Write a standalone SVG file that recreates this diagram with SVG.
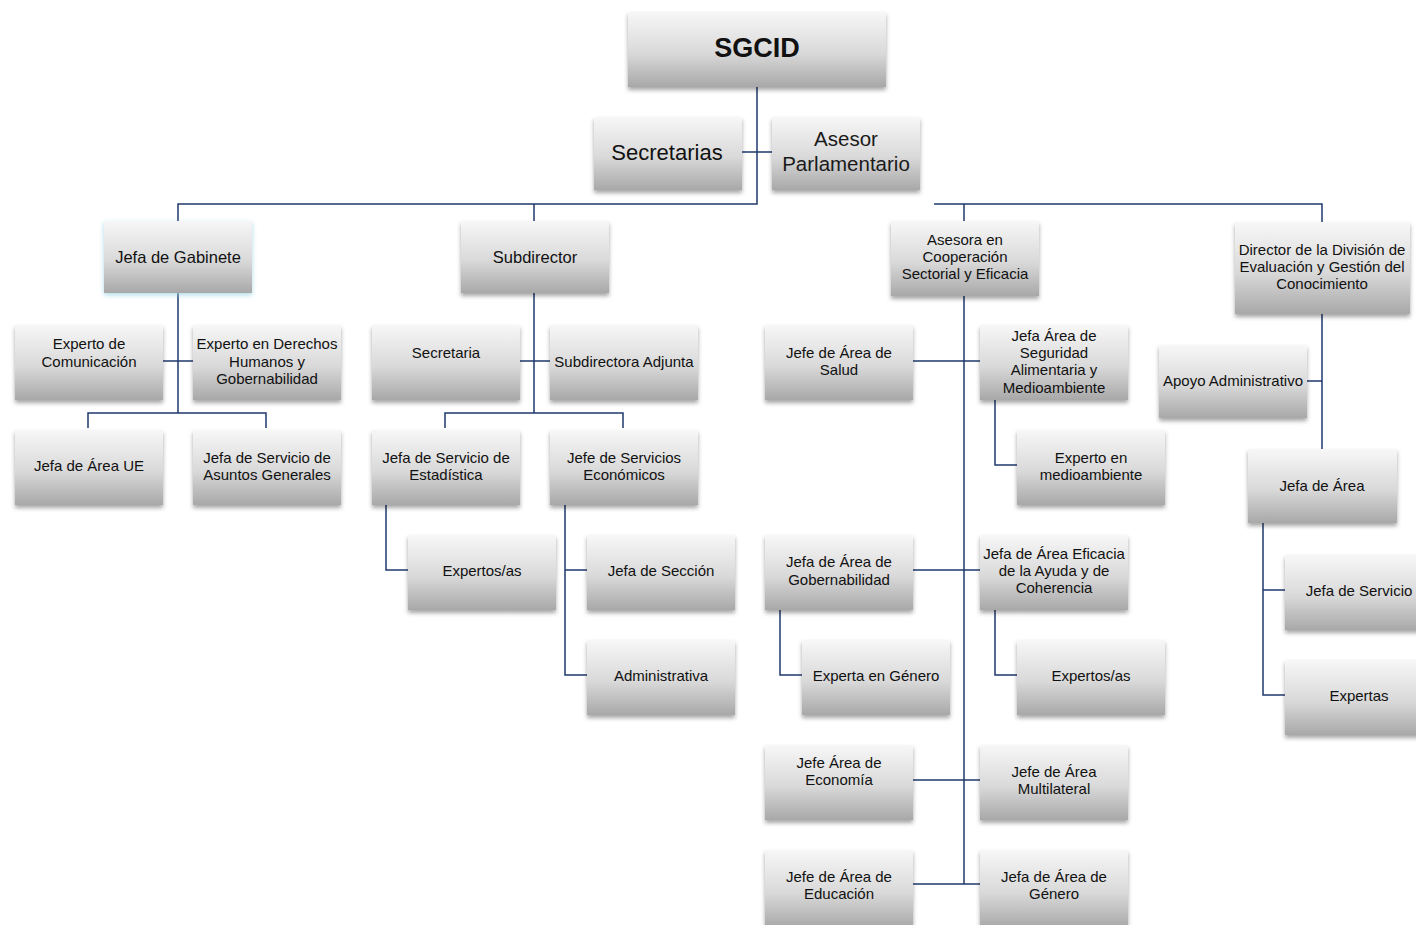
<svg xmlns="http://www.w3.org/2000/svg" width="1416" height="925" viewBox="0 0 1416 925">
<defs>
<linearGradient id="g" x1="0" y1="0" x2="0" y2="1">
<stop offset="0" stop-color="#f7f7f7"/>
<stop offset="0.55" stop-color="#d9d9d9"/>
<stop offset="1" stop-color="#a8a8a8"/>
</linearGradient>
<filter id="sh" x="-10%" y="-10%" width="120%" height="130%">
<feDropShadow dx="0" dy="3" stdDeviation="2" flood-color="#000" flood-opacity="0.35"/>
</filter>
<filter id="glow" x="-10%" y="-15%" width="120%" height="135%">
<feDropShadow dx="0" dy="2" stdDeviation="2.5" flood-color="#8ccbe0" flood-opacity="0.7"/>
</filter>
</defs>
<style>
.b{fill:url(#g);filter:url(#sh)}
.bg{fill:url(#g);filter:url(#glow)}
text{font-family:"Liberation Sans",Arial,sans-serif;fill:#111;text-anchor:middle;font-size:15px}
.t1{font-size:27px;font-weight:bold}
.t2{font-size:22px}
.t3{font-size:20.5px;fill:#1a1a1a}
.t4{font-size:16.5px}
.c{fill:none;stroke:#1f3a6e;stroke-width:1.5}
</style>
<g id="connectors" class="c">
<path d="M757 87V204H178V221M534 204V221"/>
<path d="M742 152H772"/>
<path d="M934 204H1322V222M964 204V221"/>
<path d="M178 293V413M163 361H193M88 428V413H266V428"/>
<path d="M534 293V413M520 361H550M445 428V413H623V428"/>
<path d="M386 505V570H408M565 505V675H587M565 570H587"/>
<path d="M964 296V884M913 361H980M913 570H980M913 780H980M913 884H980"/>
<path d="M995 400V465H1017M780 610V675H802M995 610V675H1017"/>
<path d="M1322 314V449M1307 381H1322M1263 523V695H1285M1263 590H1285"/>
</g>
<g id="n-sgcid"><rect class="b" x="628" y="12" width="258" height="75"/><text class="t1" x="757" y="57">SGCID</text></g>
<g id="n-secretarias"><rect class="b" x="594" y="117" width="148" height="73"/><text class="t2" x="667" y="160">Secretarias</text></g>
<g id="n-asesor"><rect class="b" x="772" y="117" width="148" height="73"/><text class="t3" x="846" y="146">Asesor</text><text class="t3" x="846" y="171">Parlamentario</text></g>
<g id="n-gabinete"><rect class="bg" x="104" y="221" width="148" height="72"/><text class="t4" x="178" y="263">Jefa de Gabinete</text></g>
<g id="n-exp-com"><rect class="b" x="15" y="325" width="148" height="75"/><text x="89" y="349">Experto de</text><text x="89" y="367">Comunicación</text></g>
<g id="n-exp-ddhh"><rect class="b" x="193" y="325" width="148" height="75"/><text x="267" y="349">Experto en Derechos</text><text x="267" y="367">Humanos y</text><text x="267" y="384">Gobernabilidad</text></g>
<g id="n-ue"><rect class="b" x="15" y="430" width="148" height="75"/><text x="89" y="471">Jefa de Área UE</text></g>
<g id="n-asuntos"><rect class="b" x="193" y="430" width="148" height="75"/><text x="267" y="463">Jefa de Servicio de</text><text x="267" y="480">Asuntos Generales</text></g>
<g id="n-subdirector"><rect class="b" x="461" y="221" width="148" height="72"/><text class="t4" x="535" y="263">Subdirector</text></g>
<g id="n-secretaria"><rect class="b" x="372" y="325" width="148" height="75"/><text x="446" y="358">Secretaria</text></g>
<g id="n-subadj"><rect class="b" x="550" y="325" width="148" height="75"/><text x="624" y="367">Subdirectora Adjunta</text></g>
<g id="n-estad"><rect class="b" x="372" y="430" width="148" height="75"/><text x="446" y="463">Jefa de Servicio de</text><text x="446" y="480">Estadística</text></g>
<g id="n-econ"><rect class="b" x="550" y="430" width="148" height="75"/><text x="624" y="463">Jefe de Servicios</text><text x="624" y="480">Económicos</text></g>
<g id="n-expertos1"><rect class="b" x="408" y="535" width="148" height="75"/><text x="482" y="576">Expertos/as</text></g>
<g id="n-seccion"><rect class="b" x="587" y="535" width="148" height="75"/><text x="661" y="576">Jefa de Sección</text></g>
<g id="n-admin"><rect class="b" x="587" y="640" width="148" height="75"/><text x="661" y="681">Administrativa</text></g>
<g id="n-asesora"><rect class="b" x="891" y="221" width="148" height="75"/><text x="965" y="245">Asesora en</text><text x="965" y="262">Cooperación</text><text x="965" y="279">Sectorial y Eficacia</text></g>
<g id="n-salud"><rect class="b" x="765" y="325" width="148" height="75"/><text x="839" y="358">Jefe de Área de</text><text x="839" y="375">Salud</text></g>
<g id="n-seguridad"><rect class="b" x="980" y="325" width="148" height="75"/><text x="1054" y="341">Jefa Área de</text><text x="1054" y="358">Seguridad</text><text x="1054" y="375">Alimentaria y</text><text x="1054" y="393">Medioambiente</text></g>
<g id="n-medioamb"><rect class="b" x="1017" y="430" width="148" height="75"/><text x="1091" y="463">Experto en</text><text x="1091" y="480">medioambiente</text></g>
<g id="n-gobern"><rect class="b" x="765" y="535" width="148" height="75"/><text x="839" y="567">Jefa de Área de</text><text x="839" y="585">Gobernabilidad</text></g>
<g id="n-eficacia"><rect class="b" x="980" y="535" width="148" height="75"/><text x="1054" y="559">Jefa de Área Eficacia</text><text x="1054" y="576">de la Ayuda y de</text><text x="1054" y="593">Coherencia</text></g>
<g id="n-genero-exp"><rect class="b" x="802" y="640" width="148" height="75"/><text x="876" y="681">Experta en Género</text></g>
<g id="n-expertos2"><rect class="b" x="1017" y="640" width="148" height="75"/><text x="1091" y="681">Expertos/as</text></g>
<g id="n-economia"><rect class="b" x="765" y="745" width="148" height="75"/><text x="839" y="768">Jefe Área de</text><text x="839" y="785">Economía</text></g>
<g id="n-multilateral"><rect class="b" x="980" y="745" width="148" height="75"/><text x="1054" y="777">Jefe de Área</text><text x="1054" y="794">Multilateral</text></g>
<g id="n-educacion"><rect class="b" x="765" y="850" width="148" height="78"/><text x="839" y="882">Jefe de Área de</text><text x="839" y="899">Educación</text></g>
<g id="n-genero"><rect class="b" x="980" y="850" width="148" height="78"/><text x="1054" y="882">Jefa de Área de</text><text x="1054" y="899">Género</text></g>
<g id="n-director"><rect class="b" x="1235" y="222" width="175" height="92"/><text x="1322" y="255">Director de la División de</text><text x="1322" y="272">Evaluación y Gestión del</text><text x="1322" y="289">Conocimiento</text></g>
<g id="n-apoyo"><rect class="b" x="1159" y="345" width="148" height="73"/><text x="1233" y="386">Apoyo Administrativo</text></g>
<g id="n-jefa-area"><rect class="b" x="1248" y="449" width="149" height="74"/><text x="1322" y="491">Jefa de Área</text></g>
<g id="n-jefa-servicio"><rect class="b" x="1285" y="555" width="148" height="75"/><text x="1359" y="596">Jefa de Servicio</text></g>
<g id="n-expertas"><rect class="b" x="1285" y="660" width="148" height="75"/><text x="1359" y="701">Expertas</text></g>
</svg>
